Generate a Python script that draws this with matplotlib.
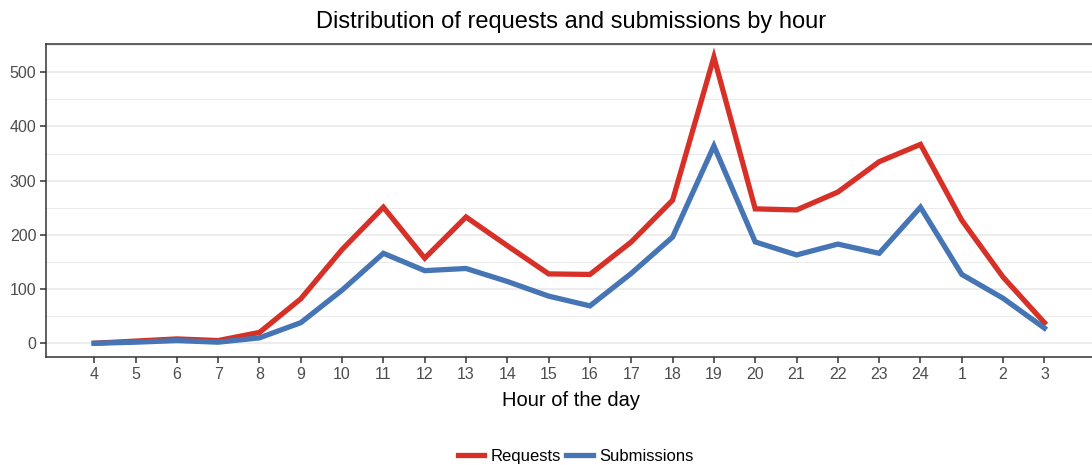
import matplotlib
matplotlib.use("Agg")
import matplotlib.pyplot as plt
import numpy as np

# hours shown on the x axis, in plotting order
hours = ["4", "5", "6", "7", "8", "9", "10", "11", "12", "13", "14", "15",
         "16", "17", "18", "19", "20", "21", "22", "23", "24", "1", "2", "3"]

requests = [0, 4, 8, 5, 20, 82, 173, 251, 157, 233, 180, 128,
            127, 187, 264, 528, 248, 246, 279, 335, 367, 227, 122, 38]

submissions = [0, 2, 5, 2, 10, 38, 98, 166, 134, 138, 114, 87,
               69, 129, 196, 364, 187, 163, 183, 166, 251, 127, 83, 28]

y_major = [0, 100, 200, 300, 400, 500]
y_minor = [50, 150, 250, 350, 450, 550]

plt.rcParams["font.family"] = ["Liberation Sans", "DejaVu Sans"]

RED = "#d73027"
BLUE = "#4575b4"

fig = plt.figure(figsize=(10.92, 4.65), dpi=100)
ax = fig.add_axes([0.0421, 0.2323, 0.962, 0.674])

x = np.arange(len(hours))
ax.plot(x, requests, color=RED, lw=3.8, label="Requests", solid_joinstyle="miter", zorder=3)
ax.plot(x, submissions, color=BLUE, lw=3.8, label="Submissions", solid_joinstyle="miter", zorder=3)

ax.set_xlim(-1.167, 24.26)
ax.set_ylim(-25.3, 553)
ax.set_xticks(x)
ax.set_xticklabels(hours)
ax.set_yticks(y_major)
ax.set_yticks(y_minor, minor=True)

for v in y_major:
    ax.axhline(v, color="#ebebeb", lw=1.3, zorder=1)
for v in y_minor:
    ax.axhline(v, color="#ebebeb", lw=0.7, zorder=1)

ax.tick_params(axis="both", which="major", length=4, width=1.1, color="#333333",
               labelcolor="#4d4d4d", labelsize=11.5, pad=3)
ax.tick_params(axis="y", which="minor", length=0)
ax.tick_params(axis="x", which="minor", length=0)

for side in ["left", "bottom", "top"]:
    ax.spines[side].set_color("#333333")
    ax.spines[side].set_linewidth(1.1)
ax.spines["right"].set_visible(False)

ax.set_xlabel("Hour of the day", fontsize=14.5, color="black", labelpad=7)
ax.set_title("Distribution of requests and submissions by hour", fontsize=17, pad=11)

fig.legend(loc="lower center", bbox_to_anchor=(0.527, -0.03), ncol=2, frameon=False,
           fontsize=12, handlelength=1.6, handletextpad=0.35, columnspacing=0.35)

fig.savefig("out.png", dpi=100)
